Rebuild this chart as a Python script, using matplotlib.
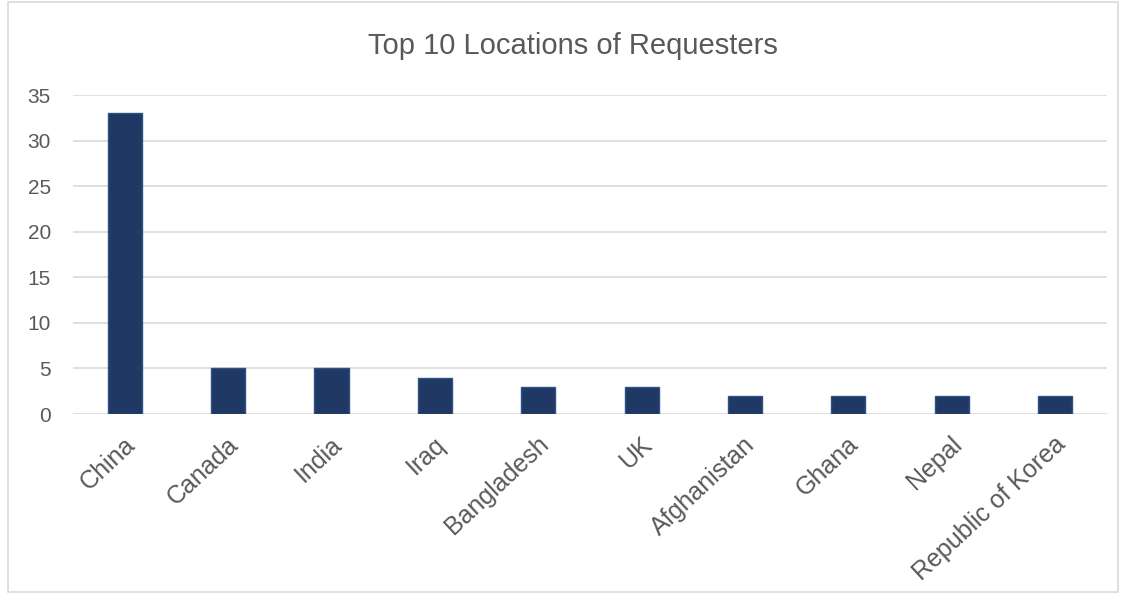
import matplotlib.pyplot as plt
from matplotlib.patches import Rectangle
import matplotlib.transforms as mtransforms
import numpy as np

# data
locations = ["China", "Canada", "India", "Iraq", "Bangladesh", "UK",
             "Afghanistan", "Ghana", "Nepal", "Republic of Korea"]
requests = [33, 5, 5, 4, 3, 3, 2, 2, 2, 2]
y_ticks = [0, 5, 10, 15, 20, 25, 30, 35]

plt.rcParams['font.family'] = ['Liberation Sans', 'DejaVu Sans']
text_color = '#595959'

fig = plt.figure(figsize=(11.27, 5.94), dpi=100)
ax = fig.add_axes([0.0648, 0.303, 0.9172, 0.537])

x = np.arange(len(locations))
ax.bar(x, requests, width=0.33, color='#1f3864', edgecolor='#2e5284',
       linewidth=1, zorder=3)

ax.set_xlim(-0.5, len(locations) - 0.5)
ax.set_ylim(0, 35)
ax.set_yticks(y_ticks)
ax.set_xticks(x)
ax.set_xticklabels(locations, rotation=43, ha='right', rotation_mode='anchor',
                   fontsize=18)
ax.tick_params(axis='both', length=0, colors=text_color)
ax.tick_params(axis='y', labelsize=15, pad=16)
ax.tick_params(axis='x', pad=13)
# nudge the slanted labels a little to the left, like the original
offset = mtransforms.ScaledTranslation(-1 / 72, 0, fig.dpi_scale_trans)
for lbl in ax.get_xticklabels():
    lbl.set_transform(lbl.get_transform() + offset)
ax.grid(axis='y', color='#d9d9d9', linewidth=1.2, zorder=0)
for s in ax.spines.values():
    s.set_visible(False)

fig.text(0.508, 0.922, "Top 10 Locations of Requesters", ha='center',
         va='center', fontsize=21, color=text_color)

# chart border
fig.patches.append(Rectangle((0.007, 0.004), 0.985, 0.992, transform=fig.transFigure,
                             fill=False, edgecolor='#d9d9d9', linewidth=1.2))

fig.savefig('out.png', dpi=100)
